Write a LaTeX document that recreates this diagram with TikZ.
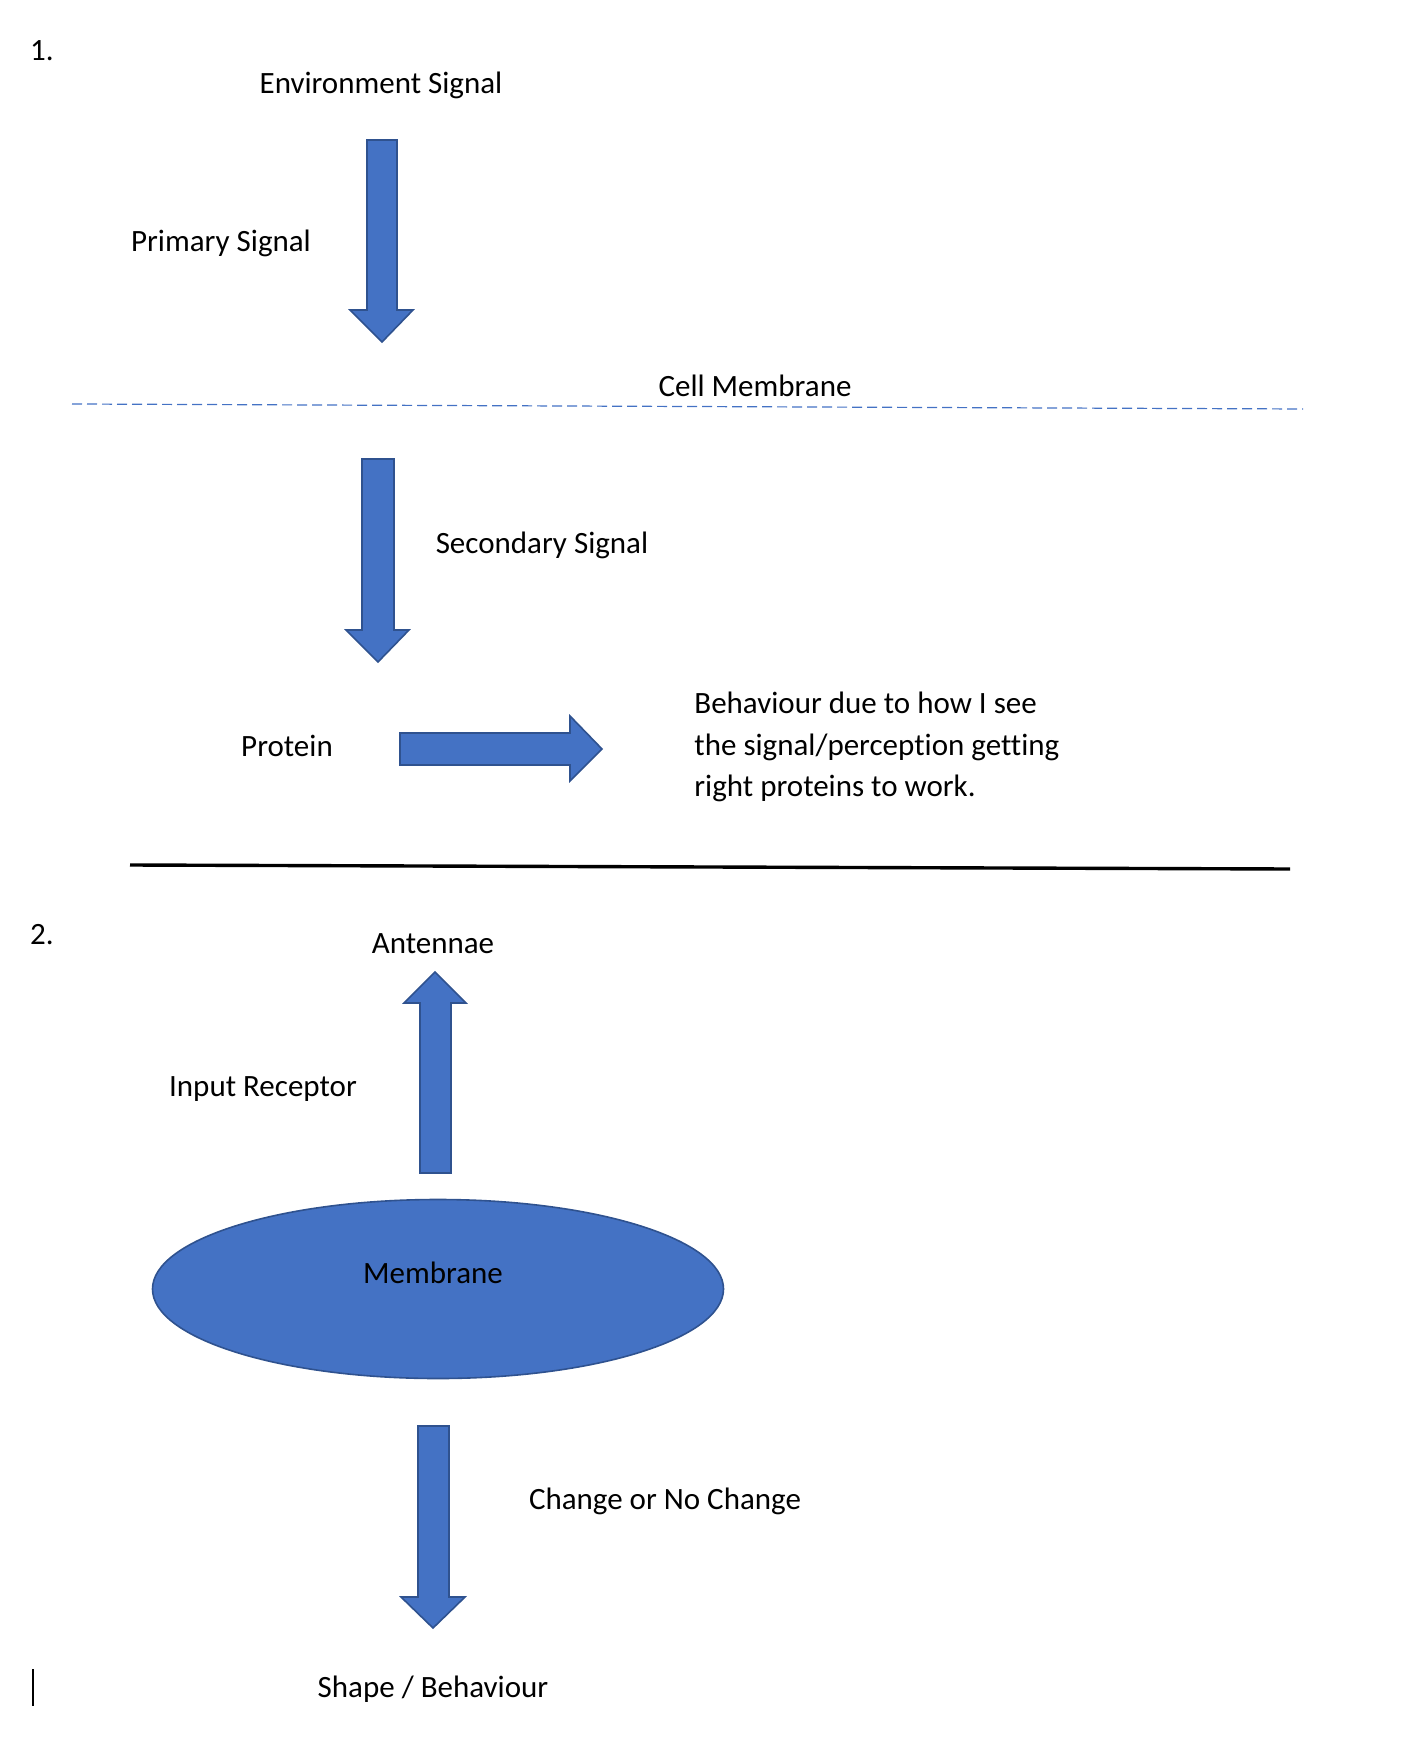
\documentclass[tikz,border=0pt]{standalone}
\usepackage{fontspec}
\setmainfont[Ligatures={NoCommon}]{Carlito}
\usetikzlibrary{shapes.geometric}
\definecolor{fillblue}{HTML}{4472C4}
\definecolor{edgeblue}{HTML}{2F528F}
\begin{document}
\begin{tikzpicture}[x=0.5pt,y=-0.5pt,
  txt/.style={font=\fontsize{15.5}{20.6}\selectfont, inner sep=0pt},
  blockarrow/.style={fill=fillblue, draw=edgeblue, line width=0.8pt, line join=miter}]
\useasboundingbox (0,0) rectangle (1404,1748);
% section 1
\node[txt] (n1) at (42,51) {1.};
\node[txt] (env) at (381,85) {Environment Signal};
\draw[blockarrow] (367,140) -- (397,140) -- (397,310) -- (413,310) -- (382,342) -- (350,310) -- (367,310) -- cycle;
\node[txt] (prim) at (221,243) {Primary Signal};
\node[txt] (cellm) at (755,386) {Cell Membrane};
\coordinate (dashL) at (72,404);
\coordinate (dashR) at (1303,409);
\draw[fillblue, line width=0.6pt, dash pattern=on 5pt off 2.5pt] (dashL) -- (dashR);
\draw[blockarrow] (362,459) -- (394,459) -- (394,630) -- (409,630) -- (378,662) -- (346,630) -- (362,630) -- cycle;
\node[txt] (sec) at (542,545) {Secondary Signal};
\node[txt] (prot) at (287,746) {Protein};
\draw[blockarrow] (400,733) -- (570,733) -- (570,716) -- (602,749) -- (570,781) -- (570,765) -- (400,765) -- cycle;
\node[txt, anchor=west, align=left] (beh) at (694,747) {Behaviour due to how I see\\the signal/perception getting\\right proteins to work.};
\coordinate (solL) at (130,865);
\coordinate (solR) at (1290,869);
\draw[line width=1.7pt] (solL) -- (solR);
% section 2
\node[txt] (n2) at (42,935) {2.};
\node[txt] (ant) at (433,944) {Antennae};
\draw[blockarrow] (420,1173) -- (451,1173) -- (451,1003) -- (466,1003) -- (435,972) -- (404,1003) -- (420,1003) -- cycle;
\node[txt] (inp) at (263,1089) {Input Receptor};
\node[ellipse, fill=fillblue, draw=edgeblue, line width=0.8pt, minimum width=285.5pt, minimum height=89.5pt, inner sep=0pt] (memb) at (438,1289) {};
\node[txt] (membt) at (433,1273) {Membrane};
\draw[blockarrow] (418,1426) -- (449,1426) -- (449,1597) -- (465,1597) -- (433,1628) -- (401,1597) -- (418,1597) -- cycle;
\node[txt] (chg) at (665,1501) {Change or No Change};
\node[txt] (shape) at (433,1689) {Shape / Behaviour};
\coordinate (curT) at (33,1669);
\coordinate (curB) at (33,1706);
\draw[line width=0.7pt] (curT) -- (curB);
\end{tikzpicture}
\end{document}
